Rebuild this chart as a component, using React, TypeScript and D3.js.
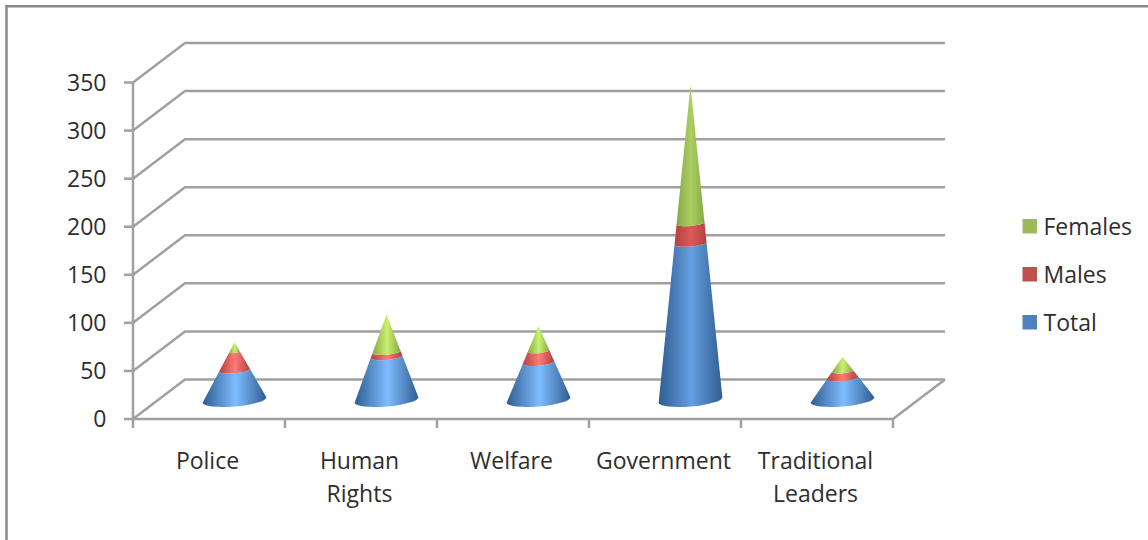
import React from "react";
import * as d3 from "d3";

const categories = ["Police", "Human Rights", "Welfare", "Government", "Traditional Leaders"];
const categoryLines = [["Police"], ["Human", "Rights"], ["Welfare"], ["Government"], ["Traditional", "Leaders"]];
const total = [31, 45, 39, 163, 23];
const males = [19, 5, 12, 21, 7];
const females = [10, 39, 26, 143, 15];
const yTicks = [0, 50, 100, 150, 200, 250, 300, 350];
const legendItems = ["Females", "Males", "Total"];

const W = 1148;
const H = 540;
const depthX = 52;
const depthY = -39.5;
const FONT = "'Open Sans', 'Noto Sans', sans-serif";
const AXIS = "#a0a0a0";
const TEXT = "#2e2e2e";
const LINE_W = 2.5;

const x = d3.scaleBand<string>().domain(categories).range([133, 893]);
const y = d3.scaleLinear().domain([0, 350]).range([419, 82.5]);

// Cone geometry: the base sits midway through the chart's depth.
const baseY = y(0) - 19;
const baseRx = 32;
const baseRy = 6.5;
const tilt = -5;
const tiltRad = (tilt * Math.PI) / 180;

const palettes = {
  Total: { base: "#4f81bd", dark: "#2f5d91", light: "#7fbcff", lightTall: "#659fe2" },
  Males: { base: "#c0504d", dark: "#b0423f", light: "#ff7a78", lightTall: "#dc5a58" },
  Females: { base: "#9bbb59", dark: "#86a945", light: "#c9f070", lightTall: "#abcf62" },
} as const;

type SeriesName = keyof typeof palettes;

// One slice of a cone between two fractions of its height.
function frustum(cx: number, apexPx: number, t0: number, t1: number) {
  const ring = (t: number) => {
    const cy = baseY - apexPx * t;
    const rx = baseRx * (1 - t);
    const ry = baseRy * (1 - t);
    return {
      rx,
      ry,
      lx: cx - rx * Math.cos(tiltRad),
      ly: cy - rx * Math.sin(tiltRad),
      rx2: cx + rx * Math.cos(tiltRad),
      ry2: cy + rx * Math.sin(tiltRad),
    };
  };
  const a = ring(t0);
  const b = ring(t1);
  const bottom = `A${a.rx},${a.ry} ${tilt} 0 0 ${a.rx2},${a.ry2}`;
  const top = b.rx > 0.01 ? `A${b.rx},${b.ry} ${tilt} 0 1 ${b.lx},${b.ly}` : "";
  return `M${a.lx},${a.ly} ${bottom} L${b.rx2},${b.ry2} ${top} Z`;
}

function Cone({ index }: { index: number }) {
  const cat = categories[index];
  const cx = (x(cat) as number) + x.bandwidth() / 2 + depthX / 2 - 0.5;
  const pxPerUnit = y(0) - y(1);
  const stacked: [SeriesName, number][] = [
    ["Total", total[index]],
    ["Males", males[index]],
    ["Females", females[index]],
  ];
  const sum = d3.sum(stacked, (d) => d[1]);
  const apexPx = sum * pxPerUnit;
  let acc = 0;
  return (
    <g>
      {stacked.map(([name, v]) => {
        const t0 = acc / sum;
        acc += v;
        const t1 = acc / sum;
        const gradId = `${name}-${sum > 200 ? "tall" : "short"}`;
        return <path key={name} d={frustum(cx, apexPx, t0, t1)} fill={`url(#${gradId})`} />;
      })}
    </g>
  );
}

export default function App() {
  const bandEdges = categories.map((c) => x(c) as number).concat(893);
  const names = Object.keys(palettes) as SeriesName[];
  return (
    <svg
      width={W}
      height={H}
      viewBox={`0 0 ${W} ${H}`}
      style={{ position: "absolute", left: 0, top: 0, background: "#fff" }}
      fontFamily={FONT}
    >
      <defs>
        {names.flatMap((n) =>
          (["tall", "short"] as const).map((k) => {
            const p = palettes[n];
            const mid = k === "tall" ? p.lightTall : p.light;
            return (
              <linearGradient key={n + k} id={`${n}-${k}`} x1="0" x2="1" y1="0" y2="0">
                <stop offset="0" stopColor={p.dark} />
                <stop offset="0.52" stopColor={mid} />
                <stop offset="1" stopColor={p.dark} />
              </linearGradient>
            );
          })
        )}
      </defs>

      {/* chart frame */}
      <rect x={6.5} y={6.25} width={1160} height={560} fill="#fff" stroke="#8a8a8a" strokeWidth={2.5} />

      {/* gridlines wrapping the side wall and back wall */}
      {yTicks.map((t) => (
        <path
          key={t}
          d={d3.line()([
            [133, y(t)],
            [133 + depthX, y(t) + depthY],
            [893 + depthX, y(t) + depthY],
          ]) as string}
          fill="none"
          stroke={AXIS}
          strokeWidth={LINE_W}
        />
      ))}

      {/* floor edge on the right */}
      <path
        d={d3.line()([
          [893, y(0)],
          [893 + depthX, y(0) + depthY],
        ]) as string}
        fill="none"
        stroke={AXIS}
        strokeWidth={LINE_W}
      />

      {/* value axis */}
      <line x1={133} x2={133} y1={y(350)} y2={y(0)} stroke={AXIS} strokeWidth={LINE_W} />
      {yTicks.map((t) => (
        <g key={t}>
          <line x1={124} x2={133} y1={y(t)} y2={y(t)} stroke={AXIS} strokeWidth={LINE_W} />
          <text x={106.5} y={y(t)} dy="0.36em" textAnchor="end" fontSize={23} fill={TEXT}>
            {t}
          </text>
        </g>
      ))}

      {/* category axis */}
      <line x1={133} x2={893} y1={y(0)} y2={y(0)} stroke={AXIS} strokeWidth={LINE_W} />
      {bandEdges.map((e) => (
        <line key={e} x1={e} x2={e} y1={y(0)} y2={y(0) + 9} stroke={AXIS} strokeWidth={LINE_W} />
      ))}

      {categories.map((_, i) => (
        <Cone key={i} index={i} />
      ))}

      {categories.map((c, i) => (
        <text key={c} textAnchor="middle" fontSize={23} fill={TEXT}>
          {categoryLines[i].map((line, j) => (
            <tspan key={line} x={(x(c) as number) + x.bandwidth() / 2 - 1.5} y={469 + j * 33}>
              {line}
            </tspan>
          ))}
        </text>
      ))}

      {/* legend */}
      {legendItems.map((name, i) => (
        <g key={name} transform={`translate(1022.5,${219 + i * 48})`}>
          <rect width={14.5} height={14.5} fill={palettes[name as SeriesName].base} />
          <text x={21} y={7.5} dy="0.36em" fontSize={23} fill={TEXT}>
            {name}
          </text>
        </g>
      ))}
    </svg>
  );
}
